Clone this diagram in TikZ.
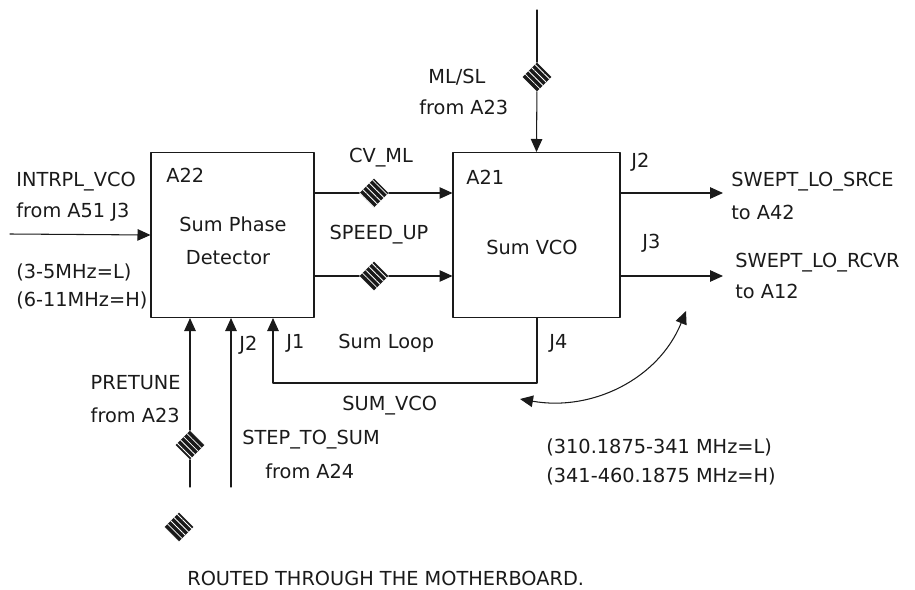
\documentclass[tikz,border=0pt]{standalone}
\usepackage{fontspec}
\setmainfont{DejaVu Sans}
\usetikzlibrary{arrows.meta,shapes.geometric,patterns.meta}
\definecolor{schInk}{HTML}{1A1A1A}
\newcommand{\schLineW}{0.6pt}
\newcommand{\schFont}{\fontsize{11}{13}\selectfont}
\tikzset{
  blockbox/.style={draw=schInk, line width=\schLineW, minimum height=3.3cm, inner sep=0pt},
  wire/.style={draw=schInk, line width=\schLineW},
  sig/.style={wire, -{Triangle[length=2.6mm,width=2.3mm]}},
  junct/.style={diamond, fill=schInk, inner sep=0pt, minimum size=0.58cm,
    postaction={pattern={Lines[angle=-45, distance=2.6pt, line width=0.45pt]}, pattern color=white}},
  lbl/.style={font=\schFont, text=schInk, inner sep=0pt},
}

\begin{document}
\begin{tikzpicture}[x=0.02cm, y=0.02cm, line cap=round, line join=round]
  % Frame: 915 x 589 px, 1 px = 0.02 cm
  \useasboundingbox (0,0) rectangle (915,589);

  % --- Blocks ---
  \node[blockbox, minimum width=3.26cm] (pd) at (232.5,354) {};
  \node[blockbox, minimum width=3.34cm] (vco) at (536.5,354) {};
  \node[lbl, anchor=west] (pdref) at (166,414) {A22};
  \node[lbl] (pdname1) at (233,365) {Sum Phase};
  \node[lbl] (pdname2) at (228,331) {Detector};
  \node[lbl, anchor=west] (vcoref) at (466,412) {A21};
  \node[lbl] (vconame) at (532,342) {Sum VCO};

  % --- Reference input ---
  \coordinate (refin) at (10,355);
  \draw[sig] (refin) -- (pd.west);
  \node[lbl, anchor=west] (refname) at (16,407) {INTRPL\_VCO};
  \node[lbl, anchor=west] (refsrc) at (16,377) {from A51 J3};
  \node[lbl, anchor=west] (refbandL) at (16,317) {(3-5MHz=L)};
  \node[lbl, anchor=west] (refbandH) at (16,289) {(6-11MHz=H)};

  % --- Tune lines between blocks ---
  \node[junct] (cvml) at (374,396) {};
  \node[junct] (speed) at (374,313) {};
  \draw[wire] (pd.east |- cvml) -- (cvml);
  \draw[sig] (cvml) -- (vco.west |- cvml);
  \draw[wire] (pd.east |- speed) -- (speed);
  \draw[sig] (speed) -- (vco.west |- speed);
  \node[lbl] (cvmllab) at (381,431) {CV\_ML};
  \node[lbl] (speedlab) at (379,354) {SPEED\_UP};

  % --- ML/SL control from above ---
  \coordinate (mltop) at (537,579);
  \node[junct] (mlsl) at (537,512) {};
  \draw[wire] (mltop) -- (mlsl);
  \draw[sig] (mlsl) -- (vco.north);
  \node[lbl, anchor=west] (mlsllab) at (428,512) {ML/SL};
  \node[lbl, anchor=west] (mlslsrc) at (419,482) {from A23};

  % --- Outputs ---
  \coordinate (srce) at (723,396);
  \coordinate (rcvr) at (723,313);
  \draw[sig] (vco.east |- srce) -- (srce);
  \draw[sig] (vco.east |- rcvr) -- (rcvr);
  \node[lbl, anchor=west] (j2out) at (631,427) {J2};
  \node[lbl, anchor=west] (j3out) at (642,346) {J3};
  \node[lbl, anchor=west] (srcelab) at (731,407) {SWEPT\_LO\_SRCE};
  \node[lbl, anchor=west] (srcedst) at (731,377) {to A42};
  \node[lbl, anchor=west] (rcvrlab) at (735,326) {SWEPT\_LO\_RCVR};
  \node[lbl, anchor=west] (rcvrdst) at (735,298) {to A12};

  % --- Bottom inputs to phase detector ---
  \coordinate (ptbot) at (190,102);
  \node[junct] (pretune) at (190,144) {};
  \draw[wire] (ptbot) -- (pretune);
  \draw[sig] (pretune) -- (pretune |- pd.south);
  \node[lbl, anchor=east] (ptlab) at (181,206) {PRETUNE};
  \node[lbl, anchor=east] (ptsrc) at (180,174) {from A23};

  \coordinate (stepbot) at (231,102);
  \draw[sig] (stepbot) -- (stepbot |- pd.south);
  \node[lbl, anchor=west] (j2in) at (239,244) {J2};
  \node[lbl, anchor=west] (steplab) at (242,149) {STEP\_TO\_SUM};
  \node[lbl, anchor=west] (stepsrc) at (265,118) {from A24};

  % --- Sum loop feedback ---
  \coordinate (loopR) at (537,206);
  \coordinate (loopL) at (273,206);
  \draw[sig] (loopR |- vco.south) -- (loopR) -- (loopL) -- (loopL |- pd.south);
  \node[lbl, anchor=west] (j1in) at (286,246) {J1};
  \node[lbl, anchor=west] (looplab) at (338,246) {Sum Loop};
  \node[lbl, anchor=west] (j4out) at (549,246) {J4};
  \node[lbl, anchor=west] (sumvco) at (342,183) {SUM\_VCO};

  % --- Tuning range ---
  \coordinate (bandL) at (520,190);
  \coordinate (bandR) at (686,278);
  \draw[wire, {Triangle[length=2.6mm,width=2.3mm]}-{Triangle[length=2.6mm,width=2.3mm]}]
    (bandL) to[out=-10,in=-112] (bandR);
  \node[lbl, anchor=west] (rangeL) at (546,142) {(310.1875-341 MHz=L)};
  \node[lbl, anchor=west] (rangeH) at (546,113) {(341-460.1875 MHz=H)};

  % --- Legend note ---
  \node[junct] (legmark) at (179,62) {};
  \node[lbl, anchor=west] (legnote) at (187,11) {ROUTED THROUGH THE MOTHERBOARD.};
\end{tikzpicture}
\end{document}
